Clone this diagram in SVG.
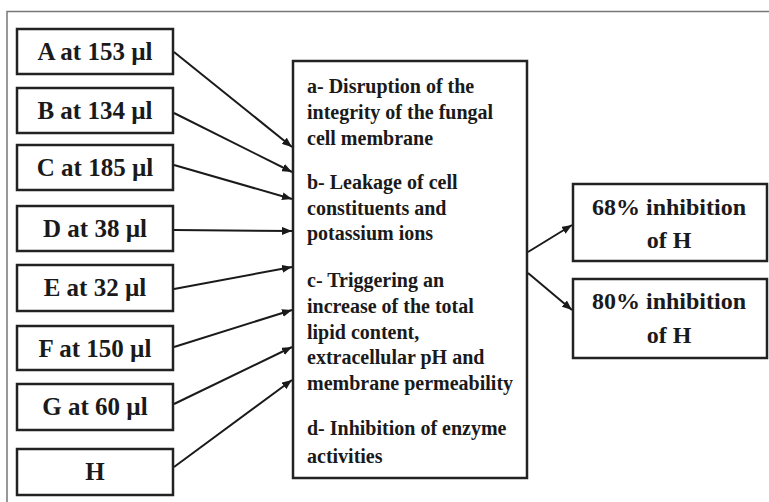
<svg xmlns="http://www.w3.org/2000/svg" width="769" height="502" viewBox="0 0 769 502">
  <defs>
    <marker id="arrow" viewBox="0 0 10 8" refX="10" refY="4" markerWidth="10" markerHeight="8" markerUnits="userSpaceOnUse" orient="auto">
      <path d="M0,0 L10,4 L0,8 z" fill="#1a1a1a"/>
    </marker>
    <style>
      .box { fill: #ffffff; stroke: #222222; stroke-width: 2.5; }
      .lbl { font-family: "Liberation Serif", "Times New Roman", serif; font-weight: bold; font-size: 25px; fill: #1a1a1a; text-anchor: middle; }
      .out { font-family: "Liberation Serif", "Times New Roman", serif; font-weight: bold; font-size: 24px; fill: #1a1a1a; text-anchor: middle; }
      .body { font-family: "Liberation Serif", "Times New Roman", serif; font-weight: bold; font-size: 20px; fill: #1a1a1a; }
      .conn { stroke: #1a1a1a; stroke-width: 2; fill: none; marker-end: url(#arrow); }
      .frame { stroke: #777777; stroke-width: 1.5; fill: none; }
    </style>
  </defs>

  <rect width="769" height="502" fill="#ffffff"/>
  <!-- outer frame (top and left edges) -->
  <path class="frame" d="M7,502 L7,11.5 L769,11.5"/>

  <!-- treatment boxes -->
  <g id="node-a"><rect class="box" x="17" y="29" width="156" height="45"/><text class="lbl" x="95" y="60">A at 153 µl</text></g>
  <g id="node-b"><rect class="box" x="17" y="88" width="156" height="45"/><text class="lbl" x="95" y="119">B at 134 µl</text></g>
  <g id="node-c"><rect class="box" x="17" y="145" width="156" height="45"/><text class="lbl" x="95" y="176">C at 185 µl</text></g>
  <g id="node-d"><rect class="box" x="17" y="206" width="156" height="45"/><text class="lbl" x="95" y="237">D at 38 µl</text></g>
  <g id="node-e"><rect class="box" x="17" y="265" width="156" height="46"/><text class="lbl" x="95" y="296">E at 32 µl</text></g>
  <g id="node-f"><rect class="box" x="17" y="326" width="156" height="44"/><text class="lbl" x="95" y="357">F at 150 µl</text></g>
  <g id="node-g"><rect class="box" x="17" y="384" width="156" height="46"/><text class="lbl" x="95" y="415">G at 60 µl</text></g>
  <g id="node-h"><rect class="box" x="17" y="449" width="156" height="46"/><text class="lbl" x="95" y="480">H</text></g>

  <!-- mechanisms box -->
  <g id="node-mechanisms">
    <rect class="box" x="293" y="61" width="234" height="417"/>
    <text class="body" x="307">
      <tspan x="307" y="93">a- Disruption of the</tspan>
      <tspan x="307" y="119">integrity of the fungal</tspan>
      <tspan x="307" y="145">cell membrane</tspan>
      <tspan x="307" y="189">b- Leakage of cell</tspan>
      <tspan x="307" y="215">constituents and</tspan>
      <tspan x="307" y="240">potassium ions</tspan>
      <tspan x="307" y="287">c- Triggering an</tspan>
      <tspan x="307" y="313">increase of the total</tspan>
      <tspan x="307" y="339">lipid content,</tspan>
      <tspan x="307" y="364">extracellular pH and</tspan>
      <tspan x="307" y="390">membrane permeability</tspan>
      <tspan x="307" y="435">d- Inhibition of enzyme</tspan>
      <tspan x="307" y="463">activities</tspan>
    </text>
  </g>

  <!-- outcome boxes -->
  <g id="node-68">
    <rect class="box" x="573" y="184" width="194" height="77"/>
    <text class="out" x="669" y="215">68% inhibition</text>
    <text class="out" x="669" y="248">of H</text>
  </g>
  <g id="node-80">
    <rect class="box" x="573" y="279" width="194" height="79"/>
    <text class="out" x="669" y="309">80% inhibition</text>
    <text class="out" x="669" y="343">of H</text>
  </g>

  <!-- connectors -->
  <g id="connectors">
    <line class="conn" x1="174" y1="52" x2="292" y2="147"/>
    <line class="conn" x1="174" y1="113" x2="292" y2="172"/>
    <line class="conn" x1="174" y1="165" x2="292" y2="199"/>
    <line class="conn" x1="174" y1="230" x2="292" y2="231"/>
    <line class="conn" x1="174" y1="289" x2="292" y2="267"/>
    <line class="conn" x1="174" y1="347" x2="292" y2="310"/>
    <line class="conn" x1="174" y1="404" x2="292" y2="347"/>
    <line class="conn" x1="174" y1="467" x2="292" y2="380"/>
    <line class="conn" x1="528" y1="252" x2="572" y2="225"/>
    <line class="conn" x1="528" y1="273" x2="572" y2="310"/>
  </g>
</svg>
